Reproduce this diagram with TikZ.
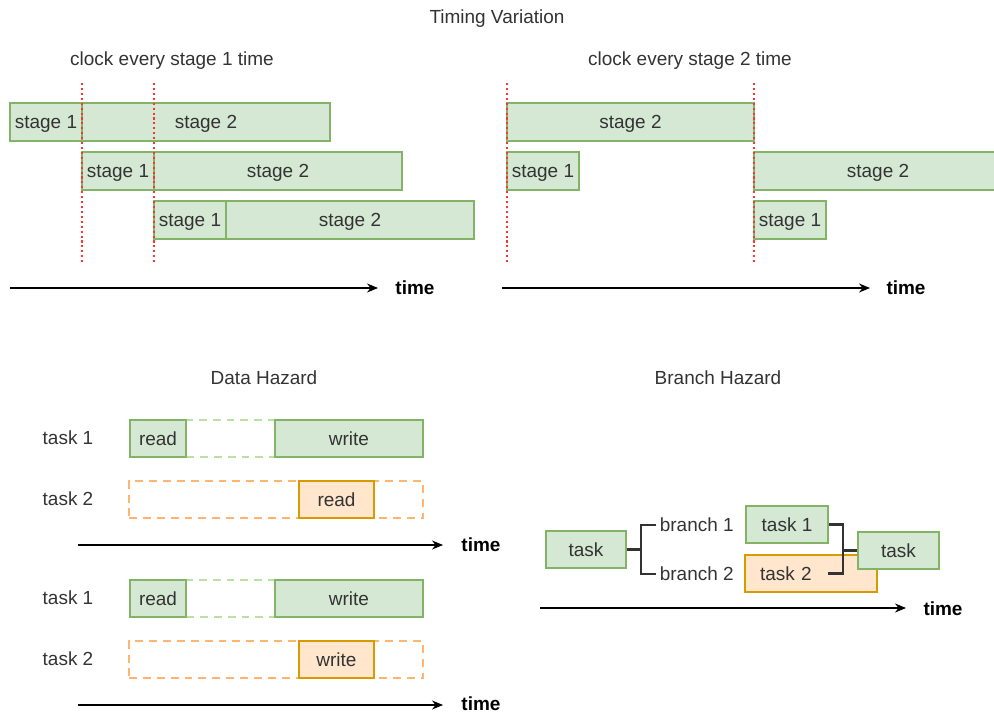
\documentclass[tikz,border=0pt]{standalone}
\usepackage{fontspec}
\setmainfont{Liberation Sans}
\usetikzlibrary{arrows.meta}
\definecolor{gfill}{HTML}{D5E8D4}
\definecolor{gline}{HTML}{82B366}
\definecolor{glight}{HTML}{B9E0A5}
\definecolor{ofill}{HTML}{FFE6CC}
\definecolor{oline}{HTML}{D79B00}
\definecolor{olight}{HTML}{FFB570}
\definecolor{clockred}{HTML}{FF3333}
\definecolor{txt}{HTML}{333333}

\begin{document}
\begin{tikzpicture}[x=0.02cm,y=-0.02cm,
		every node/.style={font=\fontsize{10.8}{13}\selectfont,text=txt},
		greenbox/.style={draw=gline,fill=gfill,line width=1.1pt,inner sep=0pt,minimum height=0.75cm,text height=0.75em,text depth=0pt},
		orangebox/.style={draw=oline,fill=ofill,line width=1.1pt,inner sep=0pt,minimum height=0.74cm,text height=0.75em,text depth=0pt},
		greengap/.style={draw=glight,line width=1.1pt,dash pattern=on 4.5pt off 3.4pt,inner sep=0pt,minimum height=0.74cm},
		orangegap/.style={draw=olight,line width=1.1pt,dash pattern=on 4.5pt off 3.4pt,inner sep=0pt,minimum height=0.74cm},
		clock/.style={draw=clockred,line width=1.2pt,dash pattern=on 1.2pt off 1.6pt},
		timeline/.style={-{Stealth[length=2.2mm,width=1.8mm]},line width=0.6pt},
		timelabel/.style={text=black,font=\fontsize{10.8}{13}\selectfont\bfseries},
		bracket/.style={draw=txt,line width=1.2pt}]
	\useasboundingbox (0,0) rectangle (994,713);

	% titles
	\node (title) at (497,19) {Timing Variation};
	\node (clk1) at (172,61) {clock every stage 1 time};
	\node (clk2) at (690,61) {clock every stage 2 time};
	\node (dhaz) at (264,378) {Data Hazard};
	\node (bhaz) at (718,378) {Branch Hazard};

	% clock every stage 1 time
	\node[greenbox,minimum width=1.44cm] (a11) at (46,122) {stage 1};
	\node[greenbox,minimum width=4.96cm] (a12) at (206,122) {stage 2};
	\node[greenbox,minimum width=1.44cm] (a21) at (118,171) {stage 1};
	\node[greenbox,minimum width=4.96cm] (a22) at (278,171) {stage 2};
	\node[greenbox,minimum width=1.44cm] (a31) at (190,220) {stage 1};
	\node[greenbox,minimum width=4.96cm] (a32) at (350,220) {stage 2};
	\coordinate (ca1) at (82,83);
	\coordinate (ca1') at (82,263);
	\coordinate (ca2) at (154,83);
	\coordinate (ca2') at (154,263);
	\draw[clock] (ca1) -- (ca1');
	\draw[clock] (ca2) -- (ca2');
	\coordinate (ta) at (10,288);
	\coordinate (ta') at (378,288);
	\draw[timeline] (ta) -- (ta');
	\node[timelabel] (tla) at (415,288) {time};

	% clock every stage 2 time
	\node[greenbox,minimum width=4.94cm] (b12) at (630.5,122) {stage 2};
	\node[greenbox,minimum width=1.44cm] (b21) at (543,171) {stage 1};
	\node[greenbox,minimum width=4.96cm] (b22) at (878,171) {stage 2};
	\node[greenbox,minimum width=1.44cm] (b31) at (790,220) {stage 1};
	\coordinate (cb1) at (507,83);
	\coordinate (cb1') at (507,263);
	\coordinate (cb2) at (754,83);
	\coordinate (cb2') at (754,263);
	\draw[clock] (cb1) -- (cb1');
	\draw[clock] (cb2) -- (cb2');
	\coordinate (tb) at (502,288);
	\coordinate (tb') at (870,288);
	\draw[timeline] (tb) -- (tb');
	\node[timelabel] (tlb) at (906,288) {time};

	% data hazard, read after write
	\node (da1) at (68,438) {task 1};
	\node (da2) at (68,499) {task 2};
	\node[greengap,minimum width=1.78cm] (dag1) at (230.5,438.5) {};
	\node[greenbox,minimum width=1.12cm,minimum height=0.74cm] (dar1) at (158,438.5) {read};
	\node[greenbox,minimum width=2.96cm,minimum height=0.74cm] (daw1) at (349,438.5) {write};
	\node[orangegap,minimum width=5.88cm] (dag2) at (276,499.5) {};
	\node[orangebox,minimum width=1.5cm] (dar2) at (336.5,499.5) {read};
	\coordinate (tc) at (78,545);
	\coordinate (tc') at (443,545);
	\draw[timeline] (tc) -- (tc');
	\node[timelabel] (tlc) at (481,545) {time};

	% data hazard, write after write
	\node (db1) at (68,598) {task 1};
	\node (db2) at (68,659) {task 2};
	\node[greengap,minimum width=1.78cm] (dbg1) at (230.5,598.5) {};
	\node[greenbox,minimum width=1.12cm,minimum height=0.74cm] (dbr1) at (158,598.5) {read};
	\node[greenbox,minimum width=2.96cm,minimum height=0.74cm] (dbw1) at (349,598.5) {write};
	\node[orangegap,minimum width=5.88cm] (dbg2) at (276,659.5) {};
	\node[orangebox,minimum width=1.5cm] (dbw2) at (336.5,659.5) {write};
	\coordinate (td) at (78,705);
	\coordinate (td') at (443,705);
	\draw[timeline] (td) -- (td');
	\node[timelabel] (tld) at (481,704) {time};

	% branch hazard
	\node[greenbox,minimum width=1.6cm,minimum height=0.74cm] (bt) at (586,549.5) {task};
	\node[anchor=west,inner sep=2pt] (br1) at (656,525) {branch 1};
	\node[anchor=west,inner sep=2pt] (br2) at (656,574) {branch 2};
	\node[greenbox,minimum width=1.64cm,minimum height=0.74cm] (bt1) at (787,524.5) {task 1};
	\node[orangebox,inner xsep=0.3cm,text width=2.04cm,align=left] (bt2) at (811,573.5) {task 2};
	\node[greenbox,minimum width=1.62cm,minimum height=0.74cm] (btr) at (898.5,550.5) {task};
	\coordinate (bj) at (641,549.5);
	\coordinate (rj) at (843,550.5);
	\coordinate (bt2end) at (828,573.5);
	\draw[bracket] (bt.east) -- (bj);
	\draw[bracket] (br1.west) -| (bj) |- (br2.west);
	\draw[bracket] (bt1.east) -| (rj) |- (bt2end);
	\draw[bracket] (rj) -- (btr.west);
	\coordinate (te) at (540,608);
	\coordinate (te') at (906,608);
	\draw[timeline] (te) -- (te');
	\node[timelabel] (tle) at (943,609) {time};
\end{tikzpicture}
\end{document}
